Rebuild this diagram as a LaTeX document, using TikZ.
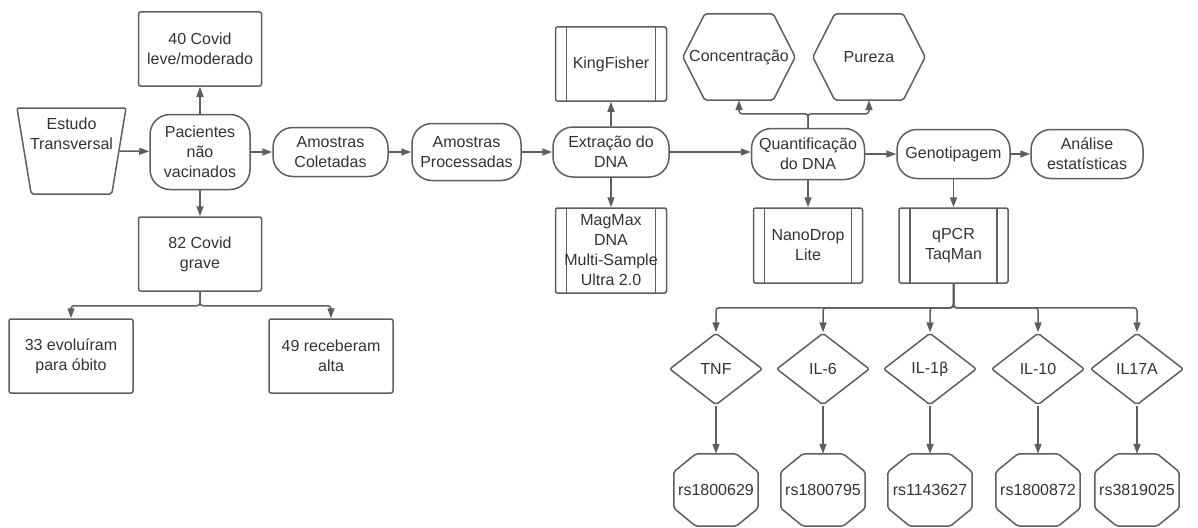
\documentclass[tikz,border=0pt]{standalone}
\usepackage{fontspec}
\setmainfont{Liberation Sans}
\usepackage{tikz}
\usetikzlibrary{arrows.meta,shapes.geometric}
\definecolor{ln}{HTML}{5E5E5E}
\definecolor{txt}{HTML}{333333}

\begin{document}
\begin{tikzpicture}[
  x=1pt,y=-1pt,>={Triangle[length=10pt,width=7pt]},
  every node/.style={font=\fontsize{16}{20}\selectfont,text=txt,align=center,inner sep=2pt},
  flow/.style={->,draw=ln,line width=1.5pt},
  branch/.style={flow,rounded corners=3pt},
  shp/.style={draw=ln,line width=1.5pt},
  term/.style={shp,rounded corners=20pt},
  box/.style={shp,rounded corners=2pt,minimum width=123pt,minimum height=74pt},
  procbox/.style={shp,rounded corners=2pt,minimum width=111pt,
    path picture={\draw[ln,line width=1.5pt]
      ([xshift=11pt]path picture bounding box.north west)--([xshift=11pt]path picture bounding box.south west)
      ([xshift=-11pt]path picture bounding box.north east)--([xshift=-11pt]path picture bounding box.south east);}},
  hexa/.style={minimum width=112pt,minimum height=86pt,
    append after command={\pgfextra{\draw[shp,rounded corners=2pt]
      (\tikzlastnode.west)--([xshift=22pt]\tikzlastnode.north west)--([xshift=-22pt]\tikzlastnode.north east)
      --(\tikzlastnode.east)--([xshift=-22pt]\tikzlastnode.south east)--([xshift=22pt]\tikzlastnode.south west)--cycle;}}},
  snp/.style={inner sep=0pt,minimum width=84pt,minimum height=72pt,
    append after command={\pgfextra{\draw[shp,rounded corners=2pt]
      ([yshift=-18pt]\tikzlastnode.north west)--([xshift=22pt]\tikzlastnode.north west)
      --([xshift=-22pt]\tikzlastnode.north east)--([yshift=-18pt]\tikzlastnode.north east)
      --([yshift=18pt]\tikzlastnode.south east)--([xshift=-22pt]\tikzlastnode.south east)
      --([xshift=22pt]\tikzlastnode.south west)--([yshift=18pt]\tikzlastnode.south west)--cycle;}}},
  gene/.style={shp,diamond,aspect=1.3,inner sep=0pt,minimum width=93pt,minimum height=72pt,rounded corners=2pt},
  entry/.style={shp,trapezium,trapezium left angle=80,trapezium right angle=80,shape border rotate=180,
    trapezium stretches=true,rounded corners=2pt,minimum width=109pt,minimum height=86pt}]
\useasboundingbox (0,0) rectangle (1198,527);
\node[entry,label={[align=center,yshift=17pt]center:Estudo\\Transversal}] (study) at (71.5,151) {};
\node[term,minimum width=100pt,minimum height=75pt] (pac) at (200,152) {Pacientes\\não\\vacinados};
\node[box] (mild) at (200,49) {40 Covid\\leve/moderado};
\node[box] (severe) at (200,254) {82 Covid\\grave};
\node[box,minimum width=124pt] (death) at (71,356) {33 evoluíram\\para óbito};
\node[box,minimum width=124pt] (disch) at (331,356) {49 receberam\\alta};
\node[term,minimum width=115pt,minimum height=49pt] (col) at (330.5,152) {Amostras\\Coletadas};
\node[term,minimum width=109pt,minimum height=57pt] (procd) at (466.5,152) {Amostras\\Processadas};
\node[term,minimum width=116pt,minimum height=50pt] (extr) at (611,152) {Extração do\\DNA};
\node[procbox,minimum height=74pt] (king) at (611,64) {KingFisher};
\node[procbox,minimum height=85pt] (magmax) at (611,250.5) {MagMax\\DNA\\Multi-Sample\\Ultra 2.0};
\node[term,minimum width=113pt,minimum height=51pt] (quant) at (808,154) {Quantificação\\do DNA};
\node[hexa] (conc) at (739,57) {Concentração};
\node[hexa] (pur) at (869,57) {Pureza};
\node[procbox,minimum width=109pt,minimum height=75pt] (nano) at (808,245.5) {NanoDrop\\Lite};
\node[term,minimum width=113pt,minimum height=49pt] (geno) at (953.5,154) {Genotipagem};
\node[term,minimum width=112pt,minimum height=49pt] (stat) at (1087,154) {Análise\\estatísticas};
\node[procbox,minimum width=109pt,minimum height=75pt] (qpcr) at (953.5,245.5) {qPCR\\TaqMan};
\node[gene] (tnf) at (716,369) {TNF};
\node[gene] (il6) at (823,369) {IL-6};
\node[gene] (il1b) at (930,369) {IL-1{\fontspec{DejaVu Sans}\fontsize{15}{20}\selectfont β}};
\node[gene] (il10) at (1038,369) {IL-10};
\node[gene] (il17) at (1137,369) {IL17A};
\node[snp] (rsa) at (716,490) {rs1800629};
\node[snp] (rsb) at (823,490) {rs1800795};
\node[snp] (rsc) at (930,490) {rs1143627};
\node[snp] (rsd) at (1038,490) {rs1800872};
\node[snp] (rse) at (1137,490) {rs3819025};
\draw[flow] (study.east)--(pac);
\draw[flow] (pac)--(mild);
\draw[flow] (pac)--(severe);
\draw[branch] (severe.south)--++(0,14)-|(death.north);
\draw[branch] (severe.south)--++(0,14)-|(disch.north);
\draw[flow] (pac)--(col);
\draw[flow] (col)--(procd);
\draw[flow] (procd)--(extr);
\draw[flow] (extr)--(king);
\draw[flow] (extr)--(magmax);
\draw[flow] (extr.east)--(extr.east-|quant.west);
\draw[branch] (quant.north)--++(0,-14)-|(conc.south);
\draw[branch] (quant.north)--++(0,-14)-|(pur.south);
\draw[flow] (quant)--(nano);
\draw[flow] (quant)--(geno);
\draw[flow] (geno)--(stat);
\draw[flow] (geno)--(qpcr);
\foreach \g/\s in {tnf/rsa,il6/rsb,il1b/rsc,il10/rsd,il17/rse}{
  \draw[branch] (qpcr.south)--++(0,24)-|(\g.north);
  \draw[flow] (\g)--(\s);
}
\end{tikzpicture}
\end{document}
